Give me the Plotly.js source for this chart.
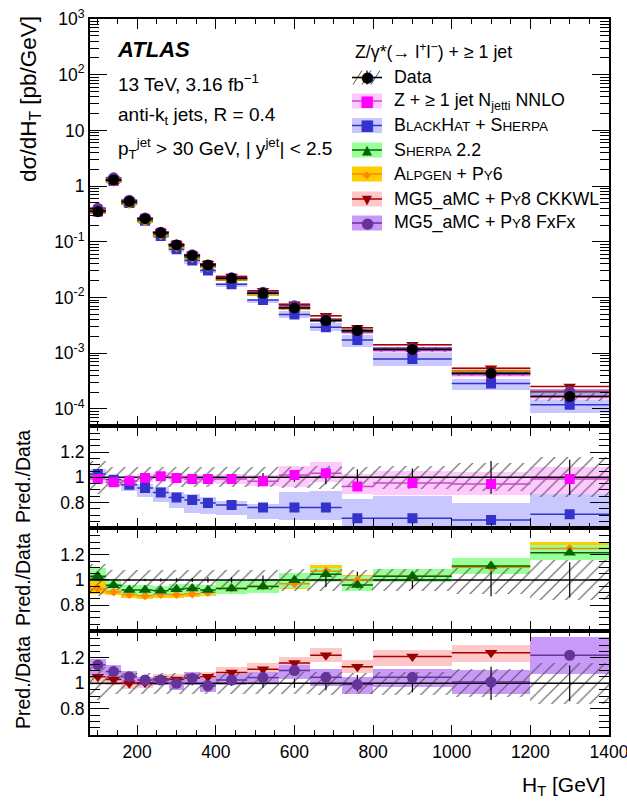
<!DOCTYPE html>
<html><head><meta charset="utf-8">
<script src="https://cdn.plot.ly/plotly-3.0.1.min.js"></script>
<style>html,body{margin:0;padding:0;background:#fff;} #plot{width:627px;height:803px;}</style>
</head><body><div id="plot"></div>
<script>
// ---------------- data ----------------
const binEdges = [80,120,160,200,240,280,320,360,400,480,560,640,720,800,1000,1200,1400];
const dataXsec = [0.35,1.29,0.53,0.26,0.145,0.088,0.0565,0.0385,0.0221,0.0119,0.0065,0.00385,0.00255,0.00117,0.000435,0.000168];
const dataStatRel = [0.005,0.006,0.008,0.01,0.012,0.014,0.016,0.02,0.02,0.035,0.035,0.055,0.065,0.07,0.13,0.14];
const dataSystRel = [0.13,0.08,0.08,0.08,0.08,0.08,0.08,0.08,0.08,0.08,0.085,0.09,0.08,0.09,0.11,0.16];

const nnloRatio = [0.987,0.96,0.973,0.995,1.008,0.995,0.987,0.987,0.987,0.968,1.019,1.032,0.928,0.955,0.947,0.987];
const nnloLo    = [0.955,0.93,0.945,0.965,0.975,0.965,0.955,0.955,0.95,0.93,0.925,0.96,0.87,0.86,0.86,0.87];
const nnloHi    = [1.03,0.99,1.005,1.025,1.04,1.03,1.02,1.02,1.03,1.015,1.09,1.12,1.03,1.05,1.04,1.08];

const bhRatio = [1.026,0.98,0.94,0.915,0.88,0.84,0.82,0.795,0.78,0.76,0.76,0.76,0.675,0.675,0.66,0.706];
const bhLo    = [1.0,0.93,0.895,0.84,0.80,0.76,0.72,0.71,0.70,0.67,0.66,0.66,0.5,0.5,0.5,0.5];
const bhHi    = [1.065,1.0,0.96,0.95,0.92,0.88,0.87,0.84,0.815,0.79,0.88,0.895,0.83,0.85,0.795,0.866];

const sherpaRatio = [1.03,0.958,0.92,0.92,0.914,0.927,0.932,0.92,0.932,0.948,0.997,1.045,0.96,1.03,1.11,1.215];
const sherpaLo    = [0.99,0.92,0.88,0.88,0.875,0.89,0.89,0.88,0.888,0.90,0.94,0.98,0.91,0.98,1.05,1.155];
const sherpaHi    = [1.097,0.995,0.96,0.96,0.955,0.965,0.97,0.96,0.99,1.005,1.058,1.097,1.03,1.09,1.175,1.28];

const alpgenRatio = [0.93,0.905,0.885,0.875,0.885,0.885,0.89,0.90,0.935,0.95,0.97,1.07,1.0,1.03,1.1,1.25];
const alpgenLo    = [0.885,0.88,0.855,0.85,0.855,0.86,0.865,0.87,0.91,0.93,0.93,1.03,0.97,1.0,1.045,1.2];
const alpgenHi    = [0.99,0.93,0.905,0.895,0.905,0.905,0.91,0.92,0.96,0.97,1.0,1.115,1.04,1.06,1.15,1.30];

const ckkwlRatio = [1.052,1.03,1.0,1.005,1.034,1.03,1.045,1.052,1.084,1.11,1.16,1.22,1.13,1.21,1.24,1.5];
const ckkwlLo    = [1.01,0.99,0.955,0.965,0.995,0.99,1.005,1.01,1.06,1.084,1.13,1.17,1.08,1.136,1.17,1.45];
const ckkwlHi    = [1.09,1.07,1.04,1.045,1.07,1.07,1.085,1.09,1.126,1.157,1.21,1.28,1.18,1.26,1.30,1.55];

const fxfxRatio = [1.144,1.092,1.052,1.026,1.026,1.0,1.04,0.98,1.026,1.045,1.1,1.047,0.99,1.047,1.01,1.22];
const fxfxLo    = [1.065,1.03,1.0,0.98,0.985,0.95,0.99,0.935,0.985,1.0,1.03,0.98,0.92,0.97,0.916,1.07];
const fxfxHi    = [1.19,1.14,1.1,1.05,1.06,1.04,1.09,1.04,1.07,1.09,1.14,1.11,1.05,1.11,1.105,1.36];

const xTickVals = [200,400,600,800,1000,1200,1400];
const xTickText = ['200','400','600','800','1000','1200','1400'];
const yMainTickVals = [1e-4,1e-3,1e-2,1e-1,1,10,100,1000];
const yMainTickText = ['10<sup>-4</sup>','10<sup>-3</sup>','10<sup>-2</sup>','10<sup>-1</sup>','1','10','10<sup>2</sup>','10<sup>3</sup>'];
const yRatioTickVals = [0.8,1,1.2];
const yRatioTickText = ['0.8','1','1.2'];

const SC = '<span style="font-size:13.5px">';
const legendLabels = [
  'Data',
  'Z + ≥ 1 jet N<sub>jetti</sub> NNLO',
  'B'+SC+'LACK</span>H'+SC+'AT</span> + S'+SC+'HERPA</span>',
  'S'+SC+'HERPA</span> 2.2',
  'A'+SC+'LPGEN</span> + P'+SC+'Y</span>6',
  'MG5_aMC + P'+SC+'Y</span>8 CKKWL',
  'MG5_aMC + P'+SC+'Y</span>8 FxFx'
];

// ---------------- derived ----------------
const centers = binEdges.slice(0,-1).map((e,i)=>(e+binEdges[i+1])/2);
const widths  = binEdges.slice(0,-1).map((e,i)=>binEdges[i+1]-e);
const halfW   = widths.map(w=>w/2);
const unity   = dataXsec.map(d=>d/d);

const FONT = 'Liberation Sans, Arial, Helvetica, sans-serif';

const styles = {
  nnlo:   {mc:'#ff00ff', lc:'#cc44cc', bc:'#ffc8ff', sym:'square', sz:10},
  bh:     {mc:'#3333cc', lc:'#3333cc', bc:'#c8c8ff', sym:'square', sz:10},
  sherpa: {mc:'#006600', lc:'#006600', bc:'#99ff99', sym:'triangle-up', sz:11},
  alpgen: {mc:'#ff8800', lc:'#ff8800', bc:'#ffcc00', sym:'diamond', sz:7},
  ckkwl:  {mc:'#990000', lc:'#aa0000', bc:'#ffc8c8', sym:'triangle-down', sz:11},
  fxfx:   {mc:'#663399', lc:'#663399', bc:'#c899f8', sym:'circle', sz:11}
};
const series = {
  nnlo:   {r:nnloRatio, lo:nnloLo, hi:nnloHi},
  bh:     {r:bhRatio, lo:bhLo, hi:bhHi},
  sherpa: {r:sherpaRatio, lo:sherpaLo, hi:sherpaHi},
  alpgen: {r:alpgenRatio, lo:alpgenLo, hi:alpgenHi},
  ckkwl:  {r:ckkwlRatio, lo:ckkwlLo, hi:ckkwlHi},
  fxfx:   {r:fxfxRatio, lo:fxfxLo, hi:fxfxHi}
};

const traces = [];
function band(key, scale, xa, ya){
  const s = series[key], st = styles[key];
  traces.push({type:'bar', x:centers, width:widths,
    base:s.lo.map((v,i)=>v*scale[i]), y:s.hi.map((v,i)=>(v-s.lo[i])*scale[i]),
    marker:{color:st.bc, line:{width:0}}, xaxis:xa, yaxis:ya, hoverinfo:'skip', showlegend:false});
}
function hatch(scale, xa, ya){
  traces.push({type:'bar', x:centers, width:widths,
    base:dataSystRel.map((v,i)=>(1-v)*scale[i]), y:dataSystRel.map((v,i)=>2*v*scale[i]),
    marker:{color:'rgba(0,0,0,0)', line:{width:0},
      pattern:{shape:'/', fgcolor:'#555555', bgcolor:'rgba(0,0,0,0)', size:9, solidity:0.12, fillmode:'replace'}},
    xaxis:xa, yaxis:ya, hoverinfo:'skip', showlegend:false});
}
function pred(key, scale, xa, ya){
  const s = series[key], st = styles[key];
  traces.push({type:'scatter', mode:'markers', x:centers, y:s.r.map((v,i)=>v*scale[i]),
    marker:{symbol:st.sym, size:st.sz, color:st.mc, line:{width:0}},
    error_x:{type:'data', array:halfW, visible:true, color:st.lc, thickness:1.5, width:0},
    xaxis:xa, yaxis:ya, hoverinfo:'skip', showlegend:false, cliponaxis:true});
}
function dataRatio(xa, ya){
  traces.push({type:'scatter', mode:'markers', x:centers, y:unity,
    marker:{size:1, color:'rgba(0,0,0,0)'},
    error_x:{type:'data', array:halfW, visible:true, color:'#000', thickness:1.6, width:0},
    error_y:{type:'data', array:dataStatRel, visible:true, color:'#000', thickness:1.2, width:0},
    xaxis:xa, yaxis:ya, hoverinfo:'skip', showlegend:false});
}

// main panel
['bh','nnlo','alpgen','sherpa','ckkwl','fxfx'].forEach(k=>band(k, dataXsec, 'x','y'));
hatch(dataXsec,'x','y');
['nnlo','bh','sherpa','alpgen','ckkwl','fxfx'].forEach(k=>pred(k, dataXsec, 'x','y'));
traces.push({type:'scatter', mode:'markers', x:centers, y:dataXsec,
  marker:{symbol:'circle', size:11, color:'#000'},
  error_x:{type:'data', array:halfW, visible:true, color:'#000', thickness:1.6, width:0},
  error_y:{type:'data', array:dataXsec.map((d,i)=>d*dataStatRel[i]), visible:true, color:'#000', thickness:1.2, width:0},
  xaxis:'x', yaxis:'y', hoverinfo:'skip', showlegend:false});

// ratio 1
band('bh', unity,'x2','y2'); band('nnlo', unity,'x2','y2'); hatch(unity,'x2','y2');
dataRatio('x2','y2'); pred('bh',unity,'x2','y2'); pred('nnlo',unity,'x2','y2');
// ratio 2
band('alpgen', unity,'x3','y3'); band('sherpa', unity,'x3','y3'); hatch(unity,'x3','y3');
dataRatio('x3','y3'); pred('alpgen',unity,'x3','y3'); pred('sherpa',unity,'x3','y3');
// ratio 3
band('ckkwl', unity,'x4','y4'); band('fxfx', unity,'x4','y4'); hatch(unity,'x4','y4');
dataRatio('x4','y4'); pred('ckkwl',unity,'x4','y4'); pred('fxfx',unity,'x4','y4');

// ---------------- layout ----------------
const ML=90, MR=18, MT=19, MB=68, W=627, H=803;
const PW=W-ML-MR, PH=H-MT-MB;
const X = px => (px-ML)/PW;
const Y = py => (H-MB-py)/PH;

function xAxis(anchor, labels){
  return {range:[80,1400], anchor:anchor, ticks:'inside', ticklen:10, tickwidth:1, tickcolor:'#000',
    tickmode:'array', tickvals:xTickVals, ticktext:xTickText, ticklabeloverflow:'allow',
    minor:{tickmode:'linear', tick0:0, dtick:50, ticklen:5, tickwidth:1, tickcolor:'#000', ticks:'inside', showgrid:false},
    showline:true, linewidth:2, linecolor:'#000', mirror:'allticks', showgrid:false, zeroline:false,
    showticklabels:labels, tickfont:{family:FONT, size:17.5, color:'#000'}};
}
function yRatio(dom, anchor){
  return {domain:dom, anchor:anchor, range:[0.595,1.41], tickmode:'array', tickvals:yRatioTickVals, ticktext:yRatioTickText,
    ticks:'inside', ticklen:19, tickwidth:1, tickcolor:'#000',
    minor:{tickmode:'linear', tick0:0, dtick:0.05, ticklen:10, tickwidth:1, tickcolor:'#000', ticks:'inside', showgrid:false},
    showline:true, linewidth:2, linecolor:'#000', mirror:'allticks', showgrid:false, zeroline:false,
    tickfont:{family:FONT, size:17.5, color:'#000'}};
}
const minorLog = [];
for (let e=-5;e<=3;e++) for (let m=2;m<=9;m++) minorLog.push(m*Math.pow(10,e));

const d3b = Y(631), d2b = Y(528.3), d1b = Y(425.7);

const shapes = [];
const annotations = [];
function ann(text, xpx, ypx, opts){
  annotations.push(Object.assign({text:text, x:X(xpx), y:Y(ypx), xref:'paper', yref:'paper', showarrow:false,
    xanchor:'left', yanchor:'middle', font:{family:FONT, size:17.8, color:'#000'}}, opts||{}));
}
const infoFont = {family:FONT, size:19, color:'#000'};
// titles
ann('dσ/dH<sub>T</sub> [pb/GeV]', 30, 14, {textangle:-90, xanchor:'center', yanchor:'top', font:{family:FONT, size:22.5, color:'#000'}});
[477, 580, 683].forEach(c=>ann('Pred./Data', 23, c, {textangle:-90, xanchor:'center', font:{family:FONT, size:19.5, color:'#000'}}));
ann('H<sub>T</sub> [GeV]', 608, 786, {xanchor:'right', font:{family:FONT, size:21, color:'#000'}});
// info text
ann('<b><i>ATLAS</i></b>', 115, 49, {font:{family:FONT, size:22, color:'#000'}});
ann('13 TeV, 3.16 fb<sup>−1</sup>', 116, 83, {font:infoFont});
ann('anti-k<sub>t</sub> jets, R = 0.4', 116, 116, {font:infoFont});
ann('p<sub>T</sub><sup>jet</sup> > 30 GeV, | y<sup>jet</sup>| < 2.5', 116, 148, {font:infoFont});
ann('Z/γ*(→ l<sup>+</sup>l<sup>−</sup>) + ≥ 1 jet', 353, 51, {font:{family:FONT, size:17.8, color:'#000'}});

// legend
const rowY = [77.5, 101, 125.5, 150, 174, 199, 223];
const legKeys = [null,'nnlo','bh','sherpa','alpgen','ckkwl','fxfx'];
const glyph = {square:'■', 'triangle-up':'▲', 'triangle-down':'▼', circle:'●', diamond:'◆'};
const glyphSize = {square:15, 'triangle-up':13, 'triangle-down':13, circle:15, diamond:10};
rowY.forEach((ry,i)=>{
  const bx0=352, bx1=382;
  const key = legKeys[i];
  if (key){
    const st = styles[key];
    shapes.push({type:'rect', xref:'paper', yref:'paper', x0:X(bx0), x1:X(bx1), y0:Y(ry+7.5), y1:Y(ry-7.5), fillcolor:st.bc, line:{width:0}});
    shapes.push({type:'line', xref:'paper', yref:'paper', x0:X(bx0), x1:X(bx1), y0:Y(ry), y1:Y(ry), line:{color:st.lc, width:1.5}});
    annotations.push({text:glyph[st.sym], x:X(367), y:Y(ry), xref:'paper', yref:'paper', showarrow:false, xanchor:'center', yanchor:'middle',
      font:{family:'DejaVu Sans', size:glyphSize[st.sym], color:st.mc}});
  } else {
    [[353,362],[362,371],[371,380]].forEach(p=>shapes.push({type:'line', xref:'paper', yref:'paper',
      x0:X(p[0]), x1:X(p[1]), y0:Y(ry+7), y1:Y(ry-7), line:{color:'#555', width:1}}));
    shapes.push({type:'line', xref:'paper', yref:'paper', x0:X(bx0), x1:X(bx1), y0:Y(ry), y1:Y(ry), line:{color:'#000', width:1.6}});
    shapes.push({type:'line', xref:'paper', yref:'paper', x0:X(367), x1:X(367), y0:Y(ry-7), y1:Y(ry+7), line:{color:'#000', width:1.2}});
    annotations.push({text:'●', x:X(367), y:Y(ry), xref:'paper', yref:'paper', showarrow:false, xanchor:'center', yanchor:'middle',
      font:{family:'DejaVu Sans', size:15, color:'#000'}});
  }
  ann(legendLabels[i], 392, ry);
});

const layout = {
  width:W, height:H, margin:{l:ML, r:MR, t:MT, b:MB, pad:0},
  paper_bgcolor:'#fff', plot_bgcolor:'#fff', showlegend:false, barmode:'overlay', bargap:0, hovermode:false,
  font:{family:FONT, color:'#000'},
  xaxis: xAxis('y', false),
  xaxis2: xAxis('y2', false),
  xaxis3: xAxis('y3', false),
  xaxis4: xAxis('y4', true),
  yaxis: {domain:[d1b,1], anchor:'x', type:'log', range:[-4.301,3], tickmode:'array', tickvals:yMainTickVals, ticktext:yMainTickText,
    ticks:'inside', ticklen:17, tickwidth:1, tickcolor:'#000',
    minor:{tickmode:'array', tickvals:minorLog, ticklen:9, tickwidth:1, tickcolor:'#000', ticks:'inside', showgrid:false},
    showline:true, linewidth:2, linecolor:'#000', mirror:'allticks', showgrid:false, zeroline:false,
    tickfont:{family:FONT, size:17.5, color:'#000'}},
  yaxis2: yRatio([d2b,d1b],'x2'),
  yaxis3: yRatio([d3b,d2b],'x3'),
  yaxis4: yRatio([0,d3b],'x4'),
  shapes:shapes, annotations:annotations
};
Plotly.newPlot('plot', traces, layout, {staticPlot:true, displayModeBar:false});
</script>
</body></html>
